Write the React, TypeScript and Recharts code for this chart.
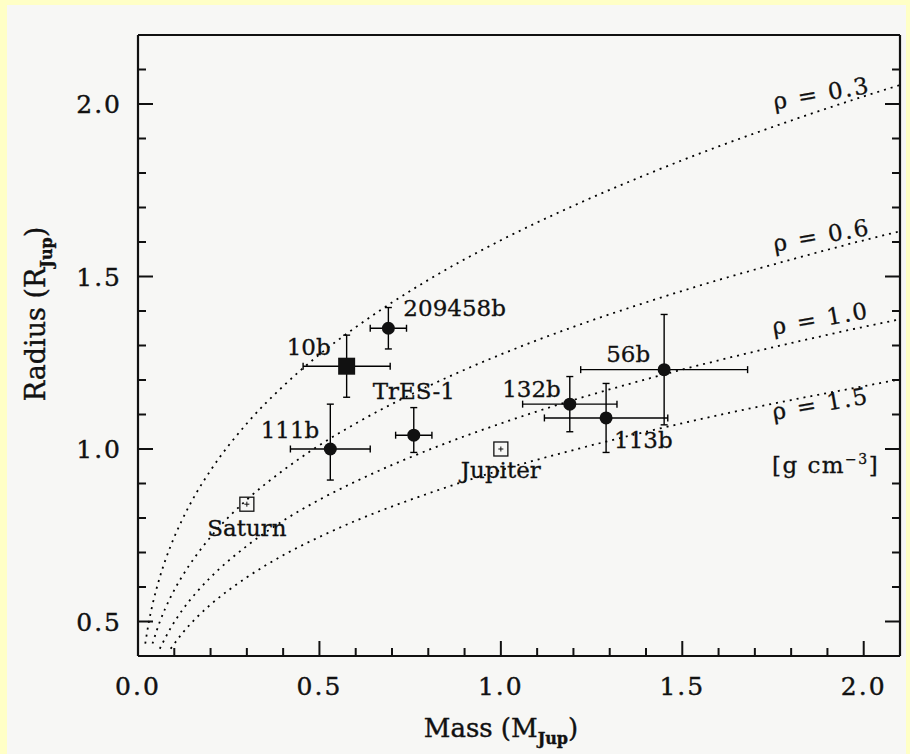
import React from 'react';
import { ComposedChart, Line, Scatter, XAxis, YAxis, ErrorBar, ReferenceDot, Label } from 'recharts';

// iso-density curves on a shared mass grid (M_Jup)
const massGrid = [0.02, 0.03, 0.04, 0.06, 0.09, 0.12, 0.16, 0.2, 0.3, 0.4, 0.5, 0.6, 0.8, 1.0, 1.2, 1.4, 1.6, 1.8, 2.0, 2.1];
const rho03Radius = [0.436, 0.499, 0.549, 0.628, 0.719, 0.791, 0.871, 0.938, 1.074, 1.182, 1.274, 1.353, 1.49, 1.605, 1.705, 1.795, 1.877, 1.952, 2.022, 2.055];
const rho06Radius = [null, null, 0.436, 0.499, 0.571, 0.628, 0.691, 0.745, 0.853, 0.938, 1.011, 1.074, 1.182, 1.274, 1.354, 1.425, 1.49, 1.549, 1.605, 1.631];
const rho10Radius = [null, null, null, 0.421, 0.481, 0.53, 0.583, 0.628, 0.719, 0.792, 0.853, 0.906, 0.997, 1.074, 1.142, 1.202, 1.257, 1.307, 1.354, 1.376];
const rho15Radius = [null, null, null, null, 0.421, 0.463, 0.51, 0.549, 0.628, 0.692, 0.745, 0.792, 0.871, 0.939, 0.997, 1.05, 1.098, 1.142, 1.182, 1.202];
const rhoValues = ['0.3', '0.6', '1.0', '1.5'];

// transiting planets (filled circles)
const planetNames = ['209458b', 'TrES-1', '111b', '56b', '132b', '113b'];
const planetMass = [0.69, 0.76, 0.53, 1.45, 1.19, 1.29];
const planetMassErr = [0.05, 0.05, 0.11, 0.23, 0.13, 0.17];
const planetRadius = [1.35, 1.04, 1.0, 1.23, 1.13, 1.09];
const planetRadiusErrLow = [0.06, 0.05, 0.09, 0.16, 0.08, 0.1];
const planetRadiusErrHigh = [0.06, 0.08, 0.13, 0.16, 0.08, 0.1];

// OGLE-TR-10b (filled square)
const tenbMass = [0.575];
const tenbMassErr = [0.12];
const tenbRadius = [1.24];
const tenbRadiusErr = [0.09];

// solar system (open squares)
const solarNames = ['Saturn', 'Jupiter'];
const solarMass = [0.3, 1.0];
const solarRadius = [0.84, 1.0];

const xMajorTicks = [0, 0.5, 1.0, 1.5, 2.0];
const xAllTicks = [0, 0.1, 0.2, 0.3, 0.4, 0.5, 0.6, 0.7, 0.8, 0.9, 1.0, 1.1, 1.2, 1.3, 1.4, 1.5, 1.6, 1.7, 1.8, 1.9, 2.0];
const yMajorTicks = [0.5, 1.0, 1.5, 2.0];
const yAllTicks = [0.5, 0.6, 0.7, 0.8, 0.9, 1.0, 1.1, 1.2, 1.3, 1.4, 1.5, 1.6, 1.7, 1.8, 1.9, 2.0, 2.1];

const curveRows = (radii: (number | null)[]) =>
  massGrid.map((m, i) => ({ m, r: radii[i] })).filter((d) => d.r !== null);

const planetRows = planetNames.map((name, i) => ({
  name,
  m: planetMass[i],
  r: planetRadius[i],
  mErr: planetMassErr[i],
  rErr: [planetRadiusErrLow[i], planetRadiusErrHigh[i]],
}));
const tenbRows = tenbMass.map((m, i) => ({ name: '10b', m, r: tenbRadius[i], mErr: tenbMassErr[i], rErr: tenbRadiusErr[i] }));
const solarRows = solarNames.map((name, i) => ({ name, m: solarMass[i], r: solarRadius[i] }));

// layout / styling
const FONT = "'DejaVu Serif', serif";
const INK = '#111';
const MAJOR_LEN = 15;
const MINOR_LEN = 8;
const labelPlacement: Record<string, { dx: number; dy: number; anchor: 'start' | 'middle' | 'end' }> = {
  '209458b': { dx: 15, dy: -12, anchor: 'start' },
  '10b': { dx: -16, dy: -11, anchor: 'end' },
  'TrES-1': { dx: 0, dy: -36, anchor: 'middle' },
  '111b': { dx: -11, dy: -11, anchor: 'end' },
  '56b': { dx: -14, dy: -8, anchor: 'end' },
  '132b': { dx: -9, dy: -7, anchor: 'end' },
  '113b': { dx: 8, dy: 30, anchor: 'start' },
  Saturn: { dx: 0, dy: 32, anchor: 'middle' },
  Jupiter: { dx: 0, dy: 29, anchor: 'middle' },
};
const rhoLabelAt = [
  { m: 1.755, r: 1.984 },
  { m: 1.755, r: 1.572 },
  { m: 1.752, r: 1.331 },
  { m: 1.752, r: 1.084 },
];
const unitLabelAt = { m: 1.747, r: 0.931 };

const isMajor = (v: number, majors: number[]) => majors.some((m) => Math.abs(m - v) < 1e-6);
const tickTextStyle = { fill: INK, fontSize: 25, fontFamily: FONT, letterSpacing: 2, stroke: INK, strokeWidth: 0.4 };

// inward tick marks drawn from the axis line (tickSize and tickMargin are 0, so x/y sit on the frame)
const makeTick = (side: 'bottom' | 'top' | 'left' | 'right', majors: number[], withText: boolean) => (props: any) => {
  const { x, y, payload } = props;
  const v = payload.value;
  const len = isMajor(v, majors) ? MAJOR_LEN : MINOR_LEN;
  let line;
  if (side === 'bottom') line = <line x1={x} x2={x} y1={y} y2={y - len} />;
  else if (side === 'top') line = <line x1={x} x2={x} y1={y} y2={y + len} />;
  else if (side === 'left') line = <line x1={x} x2={x + len} y1={y} y2={y} />;
  else line = <line x1={x} x2={x - len} y1={y} y2={y} />;
  const showText = withText && isMajor(v, majors);
  return (
    <g>
      <g stroke={INK} strokeWidth={2}>{line}</g>
      {showText && side === 'bottom' && (
        <text x={x} y={y + 39} textAnchor="middle" style={tickTextStyle}>{v.toFixed(1)}</text>
      )}
      {showText && side === 'left' && (
        <text x={x - 16} y={y + 9} textAnchor="end" style={tickTextStyle}>{v.toFixed(1)}</text>
      )}
    </g>
  );
};
const BottomTick = makeTick('bottom', xMajorTicks, true);
const TopTick = makeTick('top', xMajorTicks, false);
const LeftTick = makeTick('left', yMajorTicks, true);
const RightTick = makeTick('right', yMajorTicks, false);

const PointLabel = ({ cx, cy, name }: any) => {
  const p = labelPlacement[name];
  if (!p) return null;
  return (
    <text x={cx + p.dx} y={cy + p.dy} textAnchor={p.anchor} fontFamily={FONT} fontSize={23} fill={INK} stroke={INK} strokeWidth={0.3}>
      {name}
    </text>
  );
};

const CircleShape = (props: any) => (
  <g>
    <circle cx={props.cx} cy={props.cy} r={6.5} fill={INK} />
    <PointLabel cx={props.cx} cy={props.cy} name={props.payload?.name} />
  </g>
);

const FilledSquare = (props: any) => (
  <g>
    <rect x={props.cx - 8.5} y={props.cy - 8.5} width={17} height={17} fill={INK} />
    <PointLabel cx={props.cx} cy={props.cy} name={props.payload?.name} />
  </g>
);

const OpenSquare = (props: any) => (
  <g>
    <rect x={props.cx - 7} y={props.cy - 7} width={14} height={14} fill="none" stroke={INK} strokeWidth={1.3} />
    <line x1={props.cx - 2.5} y1={props.cy} x2={props.cx + 2.5} y2={props.cy} stroke={INK} strokeWidth={1} />
    <line x1={props.cx} y1={props.cy - 2.5} x2={props.cx} y2={props.cy + 2.5} stroke={INK} strokeWidth={1} />
    <PointLabel cx={props.cx} cy={props.cy} name={props.payload?.name} />
  </g>
);

const XTitle = ({ viewBox }: any) => (
  <text x={viewBox.x + 363} y={viewBox.y + 81} textAnchor="middle" fontFamily={FONT} fontSize={26} fill={INK} stroke={INK} strokeWidth={0.4}>
    Mass (M
    <tspan dy={7} fontSize={16} fontWeight="bold">Jup</tspan>
    <tspan dy={-7}>)</tspan>
  </text>
);

const YTitle = () => (
  <text x={45} y={314} transform="rotate(-90, 45, 314)" textAnchor="middle" fontFamily={FONT} fontSize={27} fill={INK} stroke={INK} strokeWidth={0.4}>
    Radius (R
    <tspan dy={7} fontSize={16} fontWeight="bold">Jup</tspan>
    <tspan dy={-7}>)</tspan>
  </text>
);

const frameLine = { stroke: INK, strokeWidth: 2.2 };

export default function App() {
  return (
    <div style={{ position: 'absolute', left: 0, top: 0, width: 910, height: 754, background: '#ffffc6' }}>
      <div style={{ position: 'absolute', left: 7, top: 5, width: 899, height: 749, background: '#f7f7f5' }} />
      <div style={{ position: 'absolute', left: 0, top: 0 }}>
        <ComposedChart width={910} height={754} margin={{ top: 35, right: 10, bottom: 58, left: 78 }}>
          <XAxis
            xAxisId="x"
            type="number"
            dataKey="m"
            domain={[0, 2.1]}
            allowDataOverflow
            ticks={xAllTicks}
            interval={0}
            tick={BottomTick}
            tickLine={false}
            axisLine={frameLine}
            tickSize={0}
            tickMargin={0}
            height={40}
          >
            <Label content={<XTitle />} />
          </XAxis>
          <YAxis
            yAxisId="y"
            type="number"
            dataKey="r"
            domain={[0.4, 2.2]}
            allowDataOverflow
            ticks={yAllTicks}
            interval={0}
            tick={LeftTick}
            tickLine={false}
            axisLine={frameLine}
            tickSize={0}
            tickMargin={0}
            width={60}
          />
          <XAxis
            xAxisId="top"
            type="number"
            domain={[0, 2.1]}
            allowDataOverflow
            orientation="top"
            mirror
            height={0.01}
            ticks={xAllTicks}
            interval={0}
            tick={TopTick}
            tickLine={false}
            axisLine={frameLine}
            tickSize={0}
            tickMargin={0}
          />
          <YAxis
            yAxisId="right"
            type="number"
            domain={[0.4, 2.2]}
            allowDataOverflow
            orientation="right"
            mirror
            width={0.01}
            ticks={yAllTicks}
            interval={0}
            tick={RightTick}
            tickLine={false}
            axisLine={frameLine}
            tickSize={0}
            tickMargin={0}
          />

          {[rho03Radius, rho06Radius, rho10Radius, rho15Radius].map((radii, i) => (
            <Line
              key={rhoValues[i]}
              xAxisId="x"
              yAxisId="y"
              data={curveRows(radii)}
              dataKey="r"
              type="monotone"
              stroke="#000"
              strokeWidth={1.8}
              strokeDasharray="2 5"
              dot={false}
              activeDot={false}
              isAnimationActive={false}
            />
          ))}

          <Scatter xAxisId="x" yAxisId="y" data={solarRows} shape={<OpenSquare />} isAnimationActive={false} />
          <Scatter xAxisId="x" yAxisId="y" data={tenbRows} shape={<FilledSquare />} isAnimationActive={false}>
            <ErrorBar dataKey="mErr" direction="x" width={3.5} stroke="#000" strokeWidth={1.4} />
            <ErrorBar dataKey="rErr" direction="y" width={3.5} stroke="#000" strokeWidth={1.4} />
          </Scatter>
          <Scatter xAxisId="x" yAxisId="y" data={planetRows} shape={<CircleShape />} isAnimationActive={false}>
            <ErrorBar dataKey="mErr" direction="x" width={3.5} stroke="#000" strokeWidth={1.4} />
            <ErrorBar dataKey="rErr" direction="y" width={3.5} stroke="#000" strokeWidth={1.4} />
          </Scatter>

          {rhoLabelAt.map((pos, i) => (
            <ReferenceDot
              key={'lab' + i}
              xAxisId="x"
              yAxisId="y"
              x={pos.m}
              y={pos.r}
              ifOverflow="visible"
              shape={(p: any) => (
                <text x={p.cx} y={p.cy} transform={`rotate(-10, ${p.cx}, ${p.cy})`} fontFamily={FONT} fontSize={23} fill={INK} stroke={INK} strokeWidth={0.3} letterSpacing={2}>
                  {'\u03c1 = ' + rhoValues[i]}
                </text>
              )}
            />
          ))}
          <ReferenceDot
            xAxisId="x"
            yAxisId="y"
            x={unitLabelAt.m}
            y={unitLabelAt.r}
            ifOverflow="visible"
            shape={(p: any) => (
              <text x={p.cx} y={p.cy} fontFamily={FONT} fontSize={23} fill={INK} stroke={INK} strokeWidth={0.3} letterSpacing={1.5}>
                [g cm
                <tspan dy={-9} fontSize={14}>{'\u22123'}</tspan>
                <tspan dy={9}>]</tspan>
              </text>
            )}
          />
          <YTitle />
        </ComposedChart>
      </div>
    </div>
  );
}
